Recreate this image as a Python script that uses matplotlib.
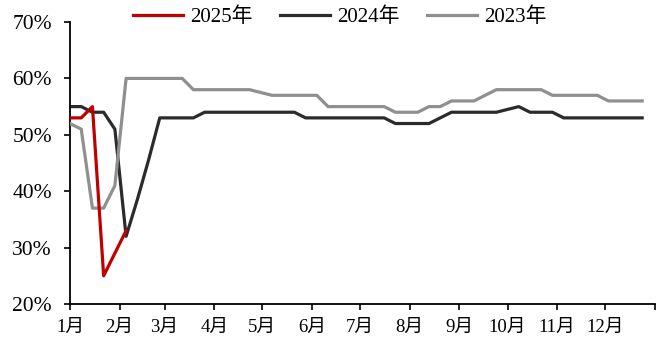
import numpy as np
import matplotlib
matplotlib.use("Agg")
import matplotlib.pyplot as plt
from matplotlib.ticker import FuncFormatter

plt.rcParams['font.family'] = ['Liberation Serif', 'Noto Sans CJK SC']

# weekly values (%), one point every 7 days from 1 Jan
y2025 = [53, 53, 55, 25, 29, 33]
y2024 = [55, 55, 54, 54, 51, 32, 38.5, 45.5, 53, 53, 53, 53,
         54, 54, 54, 54, 54, 54, 54, 54, 54,
         53, 53, 53, 53, 53, 53, 53, 53,
         52, 52, 52, 52, 53, 54, 54, 54, 54, 54, 54.5, 55,
         54, 54, 54, 53, 53, 53, 53, 53, 53, 53, 53]
y2023 = [52, 51, 37, 37, 41, 60, 60, 60, 60, 60, 60,
         58, 58, 58, 58, 58, 58, 57.5, 57, 57, 57, 57, 57,
         55, 55, 55, 55, 55, 55, 54, 54, 54, 55, 55,
         56, 56, 56, 57, 58, 58, 58, 58, 58,
         57, 57, 57, 57, 57, 56, 56, 56, 56]

month_labels = ['1月', '2月', '3月', '4月', '5月', '6月',
                '7月', '8月', '9月', '10月', '11月', '12月']
month_days = [31, 28, 31, 30, 31, 30, 31, 31, 30, 31, 30, 31]

def days(vals):
    return np.arange(len(vals)) * 7

fig = plt.figure(figsize=(6.61, 3.46), dpi=100)
ax = fig.add_axes([70 / 661, 1 - 304 / 346, 585 / 661, 282 / 346])

lw = 2.3
ax.plot(days(y2024), y2024, color='#2b2b2b', lw=lw, label='2024年', zorder=2)
ax.plot(days(y2023), y2023, color='#8f8f8f', lw=lw, label='2023年', zorder=3)
ax.plot(days(y2025), y2025, color='#c00000', lw=lw, label='2025年', zorder=4)

ticks = np.concatenate([[0], np.cumsum(month_days)])
ax.set_xlim(0, 365)
ax.set_xticks(ticks)
ax.set_xticklabels(month_labels + [''], fontsize=13.5)
ax.set_ylim(20, 70)
ax.set_yticks(range(20, 71, 10))
ax.yaxis.set_major_formatter(FuncFormatter(lambda v, p: '%d%%' % v))
ax.tick_params(axis='y', labelsize=15.5, length=4, width=1.2, direction='out', pad=9)
ax.tick_params(axis='x', length=4, width=1.2, direction='out', pad=7)

for s in ['top', 'right']:
    ax.spines[s].set_visible(False)
for s in ['left', 'bottom']:
    ax.spines[s].set_linewidth(1.3)
    ax.spines[s].set_color('black')

h, l = ax.get_legend_handles_labels()
order = [2, 0, 1]
fig.legend([h[i] for i in order], [l[i] for i in order], loc='center',
           bbox_to_anchor=(0.514, 0.95), ncol=3, frameon=False, fontsize=15,
           handlelength=2.4, handletextpad=0.35, columnspacing=1.3,
           borderaxespad=0, borderpad=0)

fig.savefig('out.png', dpi=100)
